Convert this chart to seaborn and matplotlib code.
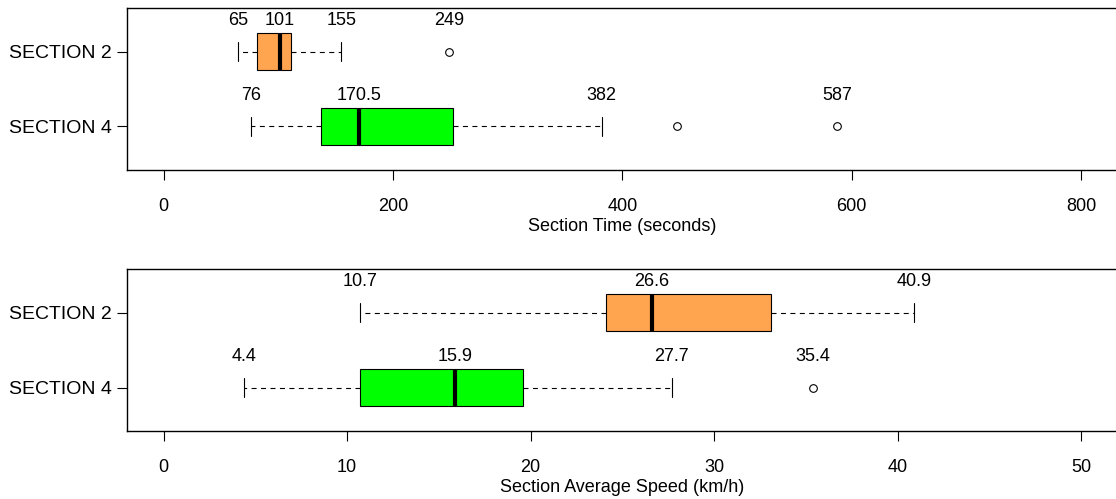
import matplotlib
matplotlib.use("Agg")
import matplotlib.pyplot as plt
import numpy as np
import pandas as pd
import seaborn as sns

sections = ["SECTION 2", "SECTION 4"]
box_colors = ["#FFA54F", "#00FF00"]

# section time (seconds): whisker low, Q1, median, Q3, whisker high, per section
time_low = [65, 76]
time_q1 = [81, 136.8]
time_median = [101, 170.5]
time_q3 = [111, 252.5]
time_high = [155, 382]
time_outliers = [[249], [448, 587]]
time_labels = [[65, 101, 155, 249], [76, 170.5, 382, 587]]
time_ticks = [0, 200, 400, 600, 800]

# section average speed (km/h)
speed_low = [10.7, 4.4]
speed_q1 = [24.1, 10.7]
speed_median = [26.6, 15.9]
speed_q3 = [33.1, 19.6]
speed_high = [40.9, 27.7]
speed_outliers = [[], [35.4]]
speed_labels = [[10.7, 26.6, 40.9], [4.4, 15.9, 27.7, 35.4]]
speed_ticks = [0, 10, 20, 30, 40, 50]


def build_frame(low, q1, med, q3, high, outliers):
  # repeat each summary value so the computed quartiles land on the read values
  rows = []
  for i, name in enumerate(sections):
    vals = np.repeat([low[i], q1[i], med[i], q3[i], high[i]], 10).tolist() + list(outliers[i])
    rows += [{"section": name, "value": v} for v in vals]
  return pd.DataFrame(rows)


sns.set_style("ticks")
plt.rcParams["font.family"] = ["Liberation Sans", "DejaVu Sans"]
plt.rcParams["font.size"] = 13
plt.rcParams["text.color"] = "black"
plt.rcParams["axes.labelcolor"] = "black"
plt.rcParams["xtick.color"] = "black"
plt.rcParams["ytick.color"] = "black"

W, H = 1116, 499
fig = plt.figure(figsize=(W / 100, H / 100), dpi=100)
ax_top = fig.add_axes([127 / W, (H - 170) / H, (1117.7 - 127) / W, 162 / H])
ax_bot = fig.add_axes([127 / W, (H - 431) / H, (1117.7 - 127) / W, 162 / H])

panels = [
  (ax_top, build_frame(time_low, time_q1, time_median, time_q3, time_high, time_outliers),
   time_labels, time_ticks, (-32, 832), "Section Time (seconds)"),
  (ax_bot, build_frame(speed_low, speed_q1, speed_median, speed_q3, speed_high, speed_outliers),
   speed_labels, speed_ticks, (-2, 52), "Section Average Speed (km/h)"),
]

for ax, df, labels, ticks, xlim, xlabel in panels:
  sns.boxplot(
    data=df, x="value", y="section", hue="section", order=sections, hue_order=sections,
    palette=box_colors, saturation=1, width=0.5, linecolor="black", linewidth=0.8,
    legend=False, ax=ax,
    whiskerprops={"linestyle": (0, (4.5, 4))},
    medianprops={"linewidth": 3, "color": "black"},
    flierprops={"marker": "o", "markerfacecolor": "none", "markeredgecolor": "black",
                "markersize": 5.5, "markeredgewidth": 0.8},
  )
  for i, vals in enumerate(labels):
    for v in vals:
      ax.text(v, i - 0.41, f"{v:g}", ha="center", va="center", fontsize=13, color="black")
  ax.set_xlim(*xlim)
  ax.set_ylim(1.58, -0.58)
  ax.set_xticks(ticks)
  ax.set_xlabel(xlabel, fontsize=13, labelpad=2)
  ax.set_ylabel("")
  ax.tick_params(axis="both", length=7, width=0.8, color="black", labelcolor="black")
  ax.tick_params(axis="x", pad=13, labelsize=13)
  ax.tick_params(axis="y", pad=4, labelsize=14)
  for side in ["left", "top", "bottom", "right"]:
    ax.spines[side].set_linewidth(1.0)
    ax.spines[side].set_color("black")

fig.savefig("out.png", dpi=100)
